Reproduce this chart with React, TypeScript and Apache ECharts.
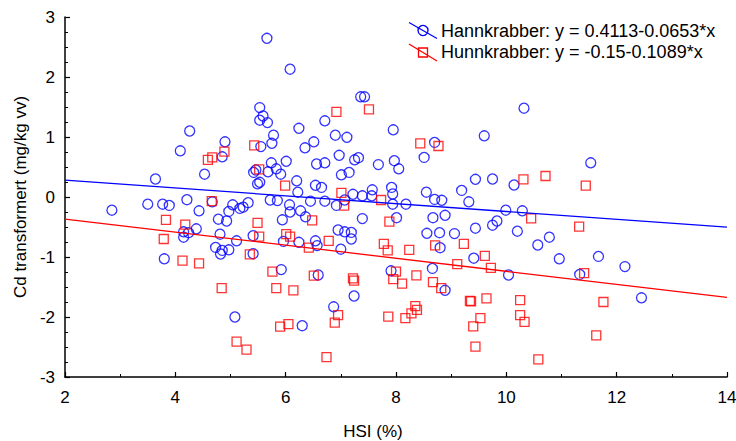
import React, { useEffect, useRef } from "react";
import * as echarts from "echarts";

const maleX = [4.26,4.09,4.90,4.85,4.53,3.64,5.66,6.08,7.36,7.43,5.53,5.59,5.53,5.67,6.71,6.24,7.95,5.78,6.90,7.11,5.75,5.55,6.51,6.35,6.97,7.25,7.32,7.68,7.97,8.05,6.01,5.74,5.83,5.91,5.68,5.46,5.42,6.56,6.71,7.01,7.15,5.53,5.49,6.20,6.54,6.65,7.57,7.92,10.32,9.60,8.70,8.51,9.44,9.75,10.14,9.19,8.55,11.53,2.85,3.50,3.77,3.89,4.21,4.43,4.67,5.04,4.97,4.93,4.78,5.17,4.38,4.15,4.24,4.15,4.81,5.11,4.73,4.85,4.97,4.82,3.80,5.08,6.22,5.23,5.32,5.72,5.85,6.07,6.08,6.27,6.36,6.45,6.71,6.92,7.07,7.22,7.39,7.56,7.94,7.94,8.18,5.94,7.39,8.01,5.41,5.96,6.24,6.54,6.57,6.95,7.07,7.19,7.19,7.00,5.41,5.92,6.59,7.91,7.24,6.87,6.30,8.70,8.83,9.32,8.67,8.89,9.99,10.29,8.56,8.79,9.06,9.44,9.75,9.83,10.20,10.57,10.78,8.80,9.41,10.96,8.66,10.04,8.89,11.33,11.67,12.15,12.45];
const maleY = [1.10,0.77,0.92,0.67,0.38,0.30,2.645,2.13,1.67,1.67,1.49,1.35,1.28,1.24,1.27,1.145,1.12,1.03,1.03,0.995,0.895,0.84,0.92,0.82,0.695,0.62,0.655,0.54,0.605,0.47,0.595,0.57,0.47,0.38,0.42,0.45,0.41,0.55,0.57,0.37,0.41,0.245,0.22,0.27,0.195,0.16,0.12,0.16,1.48,1.02,0.91,0.66,0.295,0.30,0.20,0.11,0.08,0.57,-0.22,-0.12,-0.12,-0.14,-0.045,-0.23,-0.08,-0.13,-0.24,-0.40,-0.37,-0.19,-0.53,-0.58,-0.595,-0.67,-0.62,-0.73,-0.84,-0.89,-0.88,-0.95,-1.03,-2.0,0.08,-0.17,-0.095,-0.05,-0.06,-0.13,-0.25,-0.23,-0.33,-0.07,-0.07,-0.14,-0.05,0.045,0.02,0.02,0.05,-0.12,-0.12,-0.38,-0.36,-0.345,-0.645,-0.74,-0.755,-0.73,-0.81,-0.55,-0.58,-0.59,-0.70,-0.87,-0.945,-1.21,-1.30,-1.23,-1.65,-1.83,-2.145,-0.04,-0.055,-0.08,-0.345,-0.305,-0.22,-0.23,-0.605,-0.595,-0.61,-0.52,-0.47,-0.40,-0.57,-0.80,-0.67,-0.845,-1.02,-1.03,-1.19,-1.30,-1.555,-1.29,-0.99,-1.16,-1.68];

const femaleX = [4.59,4.67,4.89,5.43,5.52,6.92,7.51,5.99,7.01,8.44,8.77,10.31,10.71,11.44,4.66,3.83,4.18,3.79,4.13,4.43,4.84,5.11,7.06,7.73,5.49,6.48,7.88,5.52,6.01,6.08,6.78,6.42,5.35,7.78,7.85,8.24,5.76,6.51,7.22,7.24,8.00,7.95,8.11,5.83,6.14,6.95,6.89,7.86,8.17,5.90,6.05,5.29,6.74,10.45,11.32,8.71,9.23,9.61,9.11,9.72,8.37,8.67,8.82,9.34,9.36,9.64,10.25,8.35,8.38,8.28,9.53,9.40,10.25,10.33,9.44,10.58,11.41,11.76,11.63];
const femaleY = [0.62,0.66,0.755,0.86,0.46,1.42,1.46,0.19,0.07,0.895,0.85,0.295,0.35,0.19,-0.07,-0.38,-0.46,-0.70,-1.06,-1.105,-1.52,-2.41,-0.145,-0.05,-0.43,-0.39,-0.41,-0.66,-0.62,-0.66,-0.73,-0.845,-0.955,-0.78,-0.89,-0.88,-1.245,-1.31,-1.355,-1.395,-1.245,-1.37,-1.445,-1.52,-1.555,-1.97,-2.095,-1.995,-2.02,-2.16,-2.12,-2.545,-2.67,-0.355,-0.495,-0.805,-0.78,-0.98,-1.12,-1.18,-1.305,-1.42,-1.52,-1.73,-1.74,-1.69,-1.72,-1.82,-1.88,-1.94,-2.02,-2.155,-1.97,-2.08,-2.495,-2.705,-1.27,-1.75,-2.305];

// fit line end points (x = 2 and x = 14)
const maleFitX = [2, 14];
const maleFitY = [0.2807, -0.5029];
const femaleFitX = [2, 14];
const femaleFitY = [-0.3678, -1.6746];

const xTicks = { min: 2, max: 14, interval: 2 };
const yTicks = { min: -3, max: 3, interval: 1 };

const legendLabels = [
  "Hannkrabber: y = 0.4113-0.0653*x",
  "Hunnkrabber: y = -0.15-0.1089*x",
];

const BLUE = "#0000ff";
const RED = "#ff0000";
const FONT = "'Liberation Sans', Arial, sans-serif";

export default function App() {
  const ref = useRef<HTMLDivElement>(null);
  useEffect(() => {
    if (!ref.current) return;
    const chart = echarts.init(ref.current, null, { renderer: "svg" });
    const zip = (xs: number[], ys: number[]) => xs.map((x, i) => [x, ys[i]]);
    chart.setOption({
      animation: false,
      backgroundColor: "#fff",
      grid: { left: 65, right: 9, top: 17, bottom: 64, outerBoundsMode: "none", containLabel: false },
      xAxis: {
        type: "value",
        min: xTicks.min,
        max: xTicks.max,
        interval: xTicks.interval,
        name: "HSI (%)",
        nameLocation: "middle",
        nameGap: 46,
        nameTextStyle: { fontFamily: FONT, fontSize: 17, color: "#000", padding: [0, 46, 0, 0] },
        axisLine: { onZero: false, lineStyle: { color: "#000", width: 1.5 } },
        axisTick: { inside: true, length: 5, lineStyle: { color: "#000", width: 1.2 } },
        minorTick: { show: true, splitNumber: 2, length: 3, lineStyle: { color: "#000", width: 1 } },
        axisLabel: { fontFamily: FONT, fontSize: 17, color: "#000", margin: 12 },
        splitLine: { show: false },
      },
      yAxis: {
        type: "value",
        min: yTicks.min,
        max: yTicks.max,
        interval: yTicks.interval,
        name: "Cd transformert (mg/kg vv)",
        nameLocation: "middle",
        nameRotate: 90,
        nameGap: 36,
        nameTextStyle: { fontFamily: FONT, fontSize: 17, color: "#000" },
        axisLine: { onZero: false, lineStyle: { color: "#000", width: 1.5 } },
        axisTick: { inside: true, length: 5, lineStyle: { color: "#000", width: 1.2 } },
        minorTick: { show: true, splitNumber: 4, length: 3, lineStyle: { color: "#000", width: 1 } },
        axisLabel: { fontFamily: FONT, fontSize: 17, color: "#000", margin: 10 },
        splitLine: { show: false },
      },
      series: [
        {
          type: "scatter",
          name: "Hannkrabber",
          data: zip(maleX, maleY),
          symbol: "circle",
          symbolSize: 10,
          itemStyle: { color: "rgba(0,0,0,0)", borderColor: BLUE, borderWidth: 1.3 },
        },
        {
          type: "scatter",
          name: "Hunnkrabber",
          data: zip(femaleX, femaleY),
          symbol: "rect",
          symbolSize: 9,
          itemStyle: { color: "rgba(0,0,0,0)", borderColor: RED, borderWidth: 1.3 },
        },
        {
          type: "line",
          data: zip(maleFitX, maleFitY),
          showSymbol: false,
          lineStyle: { color: BLUE, width: 1.3 },
        },
        {
          type: "line",
          data: zip(femaleFitX, femaleFitY),
          showSymbol: false,
          lineStyle: { color: RED, width: 1.3 },
        },
      ],
      graphic: [
        { type: "line", shape: { x1: 409, y1: 22.5, x2: 437, y2: 38.5 }, style: { stroke: BLUE, lineWidth: 1.3 } },
        { type: "circle", shape: { cx: 423, cy: 30.5, r: 5 }, style: { stroke: BLUE, fill: "none", lineWidth: 1.3 } },
        { type: "text", x: 441, y: 31, style: { text: legendLabels[0], font: `18px ${FONT}`, fill: "#000", verticalAlign: "middle" } },
        { type: "line", shape: { x1: 409, y1: 44, x2: 437, y2: 61 }, style: { stroke: RED, lineWidth: 1.3 } },
        { type: "rect", shape: { x: 418.5, y: 48, width: 9, height: 9 }, style: { stroke: RED, fill: "none", lineWidth: 1.3 } },
        { type: "text", x: 441, y: 52, style: { text: legendLabels[1], font: `18px ${FONT}`, fill: "#000", verticalAlign: "middle" } },
      ],
    });
    return () => chart.dispose();
  }, []);
  return <div ref={ref} style={{ width: 736, height: 441, position: "absolute", left: 0, top: 0 }} />;
}
